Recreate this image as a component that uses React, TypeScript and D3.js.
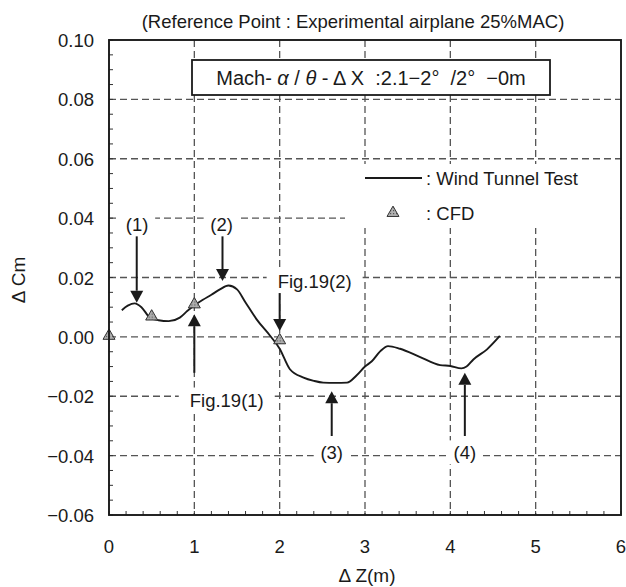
import * as d3 from "d3"

// wind tunnel curve (ΔZ in m, ΔCm)
const wtZ = [0.15, 0.22, 0.3, 0.38, 0.48, 0.58, 0.7, 0.83, 0.92, 1.0, 1.1, 1.2, 1.3, 1.4, 1.5, 1.6, 1.73, 1.89, 2.0, 2.12, 2.28, 2.4, 2.51, 2.65, 2.79, 2.9, 3.0, 3.08, 3.18, 3.27, 3.41, 3.64, 3.88, 4.0, 4.13, 4.19, 4.27, 4.43, 4.58]
const wtCm = [0.009, 0.0105, 0.0113, 0.01, 0.0065, 0.0056, 0.0053, 0.0065, 0.0088, 0.0106, 0.0125, 0.0142, 0.016, 0.0173, 0.016, 0.0116, 0.0059, 0.0003, -0.004, -0.0109, -0.0137, -0.0148, -0.0154, -0.0155, -0.0154, -0.013, -0.01, -0.0082, -0.0048, -0.0031, -0.004, -0.0067, -0.0095, -0.0098, -0.0106, -0.01, -0.0076, -0.0042, 0.0003]

// CFD points
const cfdZ = [0, 0.5, 1.0, 2.0]
const cfdCm = [0.0, 0.0065, 0.0106, -0.0015]

const xTicks = [0, 1, 2, 3, 4, 5, 6]
const yTicks = [-0.06, -0.04, -0.02, 0, 0.02, 0.04, 0.06, 0.08, 0.1]

// annotation arrows: label, arrow x, arrow start y, arrow tip y, label x, label y
const notes = [
  { text: "(1)", x: 0.325, from: 0.0342, to: 0.0115, lx: 0.33, ly: 0.0379 },
  { text: "(2)", x: 1.33, from: 0.0342, to: 0.0188, lx: 1.32, ly: 0.0379 },
  { text: "Fig.19(2)", x: 2.0, from: 0.015, to: 0.002, lx: 2.41, ly: 0.0188 },
  { text: "Fig.19(1)", x: 1.0, from: -0.0121, to: 0.0076, lx: 1.38, ly: -0.0211 },
  { text: "(3)", x: 2.61, from: -0.0334, to: -0.0183, lx: 2.61, ly: -0.0389 },
  { text: "(4)", x: 4.17, from: -0.0334, to: -0.0121, lx: 4.17, ly: -0.0389 },
]

const W = 626
const H = 587
const m = { left: 109, top: 40, right: 5, bottom: 72 }
const font = "'Liberation Sans', Arial, sans-serif"
const ink = "#1a1a1a"

export default function App() {
  const x = d3.scaleLinear().domain([0, 6]).range([m.left, W - m.right])
  const y = d3.scaleLinear().domain([-0.06, 0.1]).range([H - m.bottom, m.top])

  const line = d3
    .line<number>()
    .x((_, i) => x(wtZ[i]))
    .y((d) => y(d))
    .curve(d3.curveMonotoneX)

  const tri = d3.symbol().type(d3.symbolTriangle).size(62)()
  const fmt = (v: number) => (v < 0 ? "\u2212" : "") + Math.abs(v).toFixed(2)

  const minorY = d3.range(-0.06, 0.1001, 0.005)
  const minorX = d3.range(0, 6.001, 0.2)

  const x0 = x(0), x1 = x(6), y0 = y(-0.06), y1 = y(0.1)

  return (
    <svg width={W} height={H} style={{ position: "absolute", left: 0, top: 0, background: "#fff" }} fontFamily={font} fill={ink}>
      <defs>
        <pattern id="dots" width="3" height="3" patternUnits="userSpaceOnUse">
          <rect width="3" height="3" fill="#b0b0b0" />
          <rect width="1.2" height="1.2" fill="#555" />
        </pattern>
      </defs>

      {/* grid */}
      <g stroke="#555" strokeWidth={1.3} strokeDasharray="7,4">
        {xTicks.slice(1, -1).map((t) => (
          <line key={"gx" + t} x1={x(t)} x2={x(t)} y1={y1} y2={y0} />
        ))}
        {yTicks.slice(1, -1).map((t) => (
          <line key={"gy" + t} x1={x0} x2={x1} y1={y(t)} y2={y(t)} />
        ))}
      </g>

      {/* minor ticks */}
      <g stroke="#333" strokeWidth={1}>
        {minorY.map((t, i) => (
          <line key={"my" + i} x1={x0} x2={x0 + 4} y1={y(t)} y2={y(t)} />
        ))}
        {minorX.map((t, i) => (
          <line key={"mx" + i} x1={x(t)} x2={x(t)} y1={y0} y2={y0 - 4} />
        ))}
      </g>

      {/* Mach box */}
      <rect x={192} y={60} width={358} height={35} fill="#fff" stroke={ink} strokeWidth={1.8} />
      <text x={371} y={85} textAnchor="middle" fontSize={20} style={{ whiteSpace: "pre" }}>
        Mach- <tspan fontStyle="italic">α</tspan> / <tspan fontStyle="italic">θ</tspan> - Δ X  :2.1−2°  /2°  −0m
      </text>

      {/* legend */}
      <rect x={345} y={164} width={x1 - 346} height={64} fill="#fff" />
      <line x1={365} x2={422} y1={178} y2={178} stroke={ink} strokeWidth={1.8} />
      <text x={426} y={185} fontSize={18.5}>: Wind Tunnel Test</text>
      <path d={tri} transform="translate(393,213)" fill="url(#dots)" stroke="#333" strokeWidth={1} />
      <text x={426} y={220} fontSize={18.5}>: CFD</text>

      {/* wind tunnel curve */}
      <path d={line(wtCm) ?? ""} fill="none" stroke={ink} strokeWidth={1.9} />

      {/* CFD markers */}
      {cfdZ.map((z, i) => (
        <path key={"c" + i} d={tri} transform={`translate(${x(z)},${y(cfdCm[i]) - 1})`} fill="url(#dots)" stroke="#333" strokeWidth={1} />
      ))}

      {/* annotations */}
      {notes.map((n) => {
        const tipY = y(n.to)
        const dir = n.to < n.from ? 1 : -1
        const headBase = tipY - dir * 12
        return (
          <g key={n.text}>
            <line x1={x(n.x)} x2={x(n.x)} y1={y(n.from)} y2={headBase} stroke={ink} strokeWidth={2} />
            <path d={`M${x(n.x)},${tipY}L${x(n.x) - 6.5},${headBase}L${x(n.x) + 6.5},${headBase}Z`} />
          </g>
        )
      })}
      {notes.map((n) => {
        const w = n.text.length * 10 + 6
        return (
          <g key={"l" + n.text}>
            <rect x={x(n.lx) - w / 2} y={y(n.ly) - 12} width={w} height={24} fill="#fff" />
            <text x={x(n.lx)} y={y(n.ly) + 7} textAnchor="middle" fontSize={18.5}>
              {n.text}
            </text>
          </g>
        )
      })}

      {/* frame */}
      <rect x={x0} y={y1} width={x1 - x0} height={y0 - y1} fill="none" stroke={ink} strokeWidth={1.9} />

      {/* tick labels */}
      {yTicks.map((t) => (
        <text key={"ty" + t} x={x0 - 15} y={y(t) + 7} textAnchor="end" fontSize={18.5}>
          {fmt(t)}
        </text>
      ))}
      {xTicks.map((t) => (
        <text key={"tx" + t} x={x(t)} y={y0 + 38} textAnchor="middle" fontSize={18.5}>
          {t}
        </text>
      ))}

      {/* titles */}
      <text x={353} y={28} textAnchor="middle" fontSize={18.5}>
        (Reference Point : Experimental airplane 25%MAC)
      </text>
      <text x={367} y={582} textAnchor="middle" fontSize={19}>Δ Z(m)</text>
      <text transform="translate(25,280) rotate(-90)" textAnchor="middle" fontSize={19}>Δ Cm</text>
    </svg>
  )
}
